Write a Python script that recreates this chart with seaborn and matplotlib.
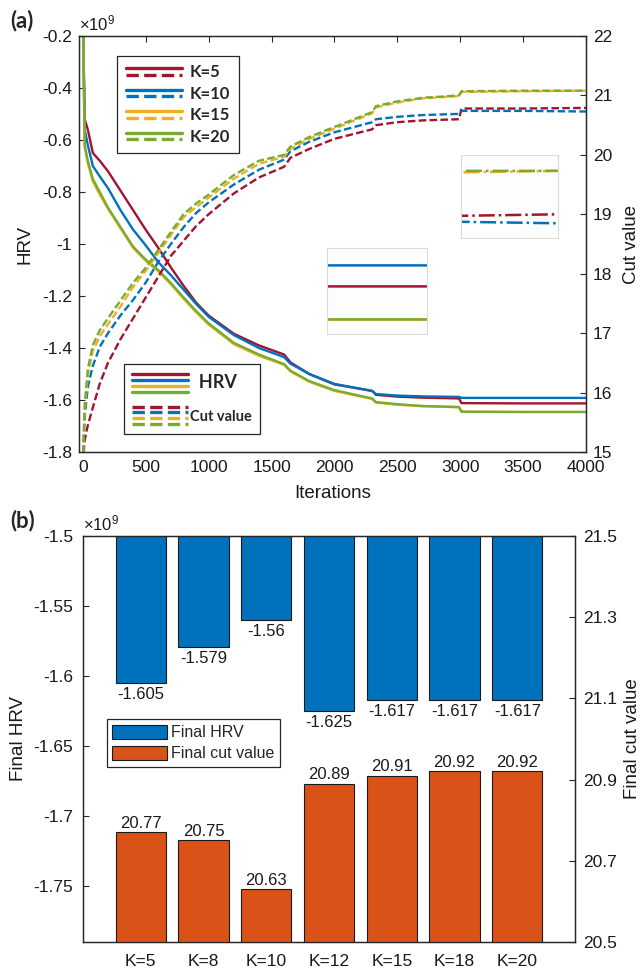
import numpy as np
import pandas as pd
import matplotlib
matplotlib.use('Agg')
import matplotlib.pyplot as plt
import seaborn as sns
from matplotlib.lines import Line2D
from matplotlib.patches import Patch
from matplotlib.legend_handler import HandlerBase

# ---- data ----
iters = [0, 15, 40, 80, 135, 200, 300, 400, 500, 600, 700, 800, 900, 1000, 1200,
         1400, 1600, 1650, 1800, 2000, 2300, 2330, 2500, 2700, 2990, 3010, 3500, 4000]

# HRV (x1e9)
hrv_k5 = [-0.10, -0.52, -0.56, -0.65, -0.68, -0.72, -0.795, -0.87, -0.945, -1.015, -1.09, -1.16,
          -1.225, -1.275, -1.345, -1.39, -1.425, -1.455, -1.50, -1.54, -1.565, -1.58, -1.587, -1.591,
          -1.594, -1.612, -1.613, -1.613]
hrv_k10 = [-0.10, -0.56, -0.62, -0.70, -0.74, -0.785, -0.87, -0.945, -1.005, -1.07, -1.12, -1.175,
           -1.23, -1.28, -1.35, -1.40, -1.435, -1.46, -1.50, -1.538, -1.565, -1.577, -1.583,
           -1.586, -1.588, -1.592, -1.592, -1.592]
hrv_k15 = [-0.10, -0.63, -0.69, -0.76, -0.81, -0.865, -0.94, -1.015, -1.065, -1.105, -1.155, -1.21,
           -1.262, -1.31, -1.385, -1.43, -1.465, -1.49, -1.53, -1.565, -1.596, -1.61, -1.618,
           -1.624, -1.628, -1.645, -1.646, -1.646]
hrv_k20 = [-0.10, -0.62, -0.68, -0.75, -0.80, -0.86, -0.935, -1.01, -1.06, -1.10, -1.15, -1.205,
           -1.257, -1.305, -1.38, -1.425, -1.462, -1.487, -1.527, -1.562, -1.594, -1.608, -1.616,
           -1.623, -1.627, -1.645, -1.646, -1.646]

# cut value
cut_k5 = [14.8, 15.2, 15.45, 15.75, 16.15, 16.5, 16.9, 17.25, 17.6, 17.95, 18.3, 18.55, 18.8, 19.0,
          19.35, 19.62, 19.8, 19.95, 20.1, 20.27, 20.43, 20.5, 20.55, 20.58, 20.6, 20.78, 20.78, 20.79]
cut_k10 = [14.8, 15.6, 16.1, 16.45, 16.77, 17.0, 17.3, 17.56, 17.85, 18.2, 18.5, 18.78, 19.02, 19.2,
           19.5, 19.75, 19.92, 20.06, 20.22, 20.38, 20.55, 20.6, 20.64, 20.67, 20.69, 20.74, 20.74, 20.73]
cut_k15 = [14.8, 15.7, 16.3, 16.7, 16.95, 17.15, 17.45, 17.78, 18.05, 18.35, 18.65, 18.95, 19.12, 19.28,
           19.6, 19.85, 19.97, 20.1, 20.27, 20.44, 20.7, 20.8, 20.88, 20.95, 20.99, 21.06, 21.07, 21.08]
cut_k20 = [14.8, 15.8, 16.4, 16.8, 17.05, 17.25, 17.55, 17.85, 18.1, 18.4, 18.7, 19.0, 19.18, 19.33,
           19.66, 19.9, 20.0, 20.14, 20.3, 20.47, 20.72, 20.82, 20.9, 20.96, 21.0, 21.07, 21.08, 21.08]

k_curves = ['K=5', 'K=10', 'K=15', 'K=20']

# panel (b)
k_labels = ['K=5', 'K=8', 'K=10', 'K=12', 'K=15', 'K=18', 'K=20']
final_hrv = [-1.605, -1.579, -1.56, -1.625, -1.617, -1.617, -1.617]
final_cut = [20.77, 20.75, 20.63, 20.89, 20.91, 20.92, 20.92]

# ---- style ----
sns.set_theme(style='white')
plt.rcParams['font.family'] = ['Liberation Sans', 'DejaVu Sans']
plt.rcParams['axes.unicode_minus'] = False
plt.rcParams['mathtext.fontset'] = 'custom'
plt.rcParams['mathtext.rm'] = 'Liberation Sans'
plt.rcParams['mathtext.it'] = 'Liberation Sans:italic'

palette = {'K=5': '#A2142F', 'K=10': '#0072BD', 'K=15': '#EDB120', 'K=20': '#77AC30'}
AX_COL = '#262626'
TICK_FS = 12.5
LAB_FS = 13.5
DASH = (0, (3.2, 1.4))

hrv_df = pd.DataFrame({'iter': iters * 4,
                       'hrv': hrv_k5 + hrv_k10 + hrv_k15 + hrv_k20,
                       'K': np.repeat(k_curves, len(iters))})
cut_df = pd.DataFrame({'iter': iters * 4,
                       'cut': cut_k5 + cut_k10 + cut_k15 + cut_k20,
                       'K': np.repeat(k_curves, len(iters))})


class StackHandler(HandlerBase):
    """draws the lines of a tuple handle stacked on top of each other"""
    def create_artists(self, legend, orig_handle, xdescent, ydescent, width, height, fontsize, trans):
        n = len(orig_handle)
        arts = []
        for i, h in enumerate(orig_handle):
            y = height * (1 - (i + 0.5) / n) - ydescent
            ln = Line2D([-xdescent, width - xdescent], [y, y], color=h.get_color(),
                        linestyle=h.get_linestyle(), linewidth=h.get_linewidth())
            ln.set_transform(trans)
            arts.append(ln)
        return arts


def style_axes(ax, pad_x=5, pad_y=5):
    for sp in ax.spines.values():
        sp.set_color(AX_COL)
        sp.set_linewidth(0.9)
    ax.tick_params(direction='in', length=4, width=0.8, color=AX_COL,
                   labelsize=TICK_FS, labelcolor='#1a1a1a')
    ax.tick_params(axis='x', pad=pad_x)
    ax.tick_params(axis='y', pad=pad_y)


fig = plt.figure(figsize=(6.42, 9.71), dpi=100)

# ================= panel (a) =================
axa = fig.add_axes([0.1231, 0.5345, 0.7897, 0.4284])
axa2 = axa.twinx()

sns.lineplot(data=hrv_df, x='iter', y='hrv', hue='K', hue_order=k_curves, palette=palette,
             estimator=None, sort=False, linewidth=1.7, legend=False, ax=axa)
sns.lineplot(data=cut_df, x='iter', y='cut', hue='K', hue_order=k_curves, palette=palette,
             estimator=None, sort=False, linewidth=1.7, linestyle=DASH, legend=False, ax=axa2)

axa.set_xlim(-30, 4000)
axa.set_ylim(-1.8, -0.2)
axa.set_yticks(np.arange(-1.8, -0.19, 0.2))
axa.set_yticklabels(['-1.8', '-1.6', '-1.4', '-1.2', '-1', '-0.8', '-0.6', '-0.4', '-0.2'])
axa.set_xticks(np.arange(0, 4001, 500))
axa2.set_ylim(15, 22)
axa2.set_yticks(range(15, 23))
style_axes(axa, pad_x=5.5, pad_y=5)
style_axes(axa2, pad_y=5)
axa.tick_params(axis='x', top=True)

axa.set_xlabel('Iterations', fontsize=LAB_FS, color='#1a1a1a')
axa.xaxis.set_label_coords(0.5, -0.08)
axa.set_ylabel('HRV', fontsize=LAB_FS, color='#1a1a1a')
axa.yaxis.set_label_coords(-0.09, 0.5)
axa2.set_ylabel('Cut value', fontsize=LAB_FS, color='#1a1a1a')
axa2.yaxis.set_label_coords(1.073, 0.5)
axa.text(0.0, 1.006, '×10$^{9}$', transform=axa.transAxes, ha='left', va='bottom',
         fontsize=12, color='#1a1a1a')

# legend: K values (solid + dashed stacked)
k_handles = [(Line2D([], [], color=palette[k], lw=2.4),
              Line2D([], [], color=palette[k], lw=2.4, ls=DASH)) for k in k_curves]
leg1 = axa2.legend(k_handles, k_curves, handler_map={tuple: StackHandler()},
                   loc='upper left', bbox_to_anchor=(0.0755, 0.952), borderaxespad=0,
                   prop={'family': 'Lato', 'weight': 'bold', 'size': 12},
                   handlelength=3.4, handleheight=0.85, labelspacing=0.33, handletextpad=0.45,
                   borderpad=0.5, fancybox=False, framealpha=1, edgecolor=AX_COL)
leg1.get_frame().set_linewidth(0.9)
axa2.add_artist(leg1)

# legend: HRV / Cut value
hrv_h = tuple(Line2D([], [], color=palette[k], lw=2.4) for k in k_curves)
cut_h = tuple(Line2D([], [], color=palette[k], lw=2.4, ls=DASH) for k in k_curves)
leg2 = axa2.legend([hrv_h, cut_h], ['  HRV', 'Cut value'], handler_map={tuple: StackHandler()},
                   loc='upper left', bbox_to_anchor=(0.0893, 0.2115), borderaxespad=0,
                   prop={'family': 'Lato', 'weight': 'bold', 'size': 12},
                   handlelength=3.4, handleheight=1.75, labelspacing=0.55, handletextpad=0.1,
                   borderpad=0.45, fancybox=False, framealpha=1, edgecolor=AX_COL)
leg2.get_frame().set_linewidth(0.9)
leg2.get_texts()[0].set_fontsize(13)
leg2.get_texts()[1].set_fontsize(10.5)

# zoom insets
ins1 = fig.add_axes([0.5098, 0.656, 0.1548, 0.0883])
sns.lineplot(data=hrv_df, x='iter', y='hrv', hue='K', hue_order=k_curves, palette=palette,
             estimator=None, sort=False, linewidth=1.8, legend=False, ax=ins1)
ins1.set_xlim(3500, 4000)
ins1.set_ylim(-1.6606, -1.5749)

ins2 = fig.add_axes([0.7181, 0.7546, 0.1506, 0.0858])
sns.lineplot(data=cut_df, x='iter', y='cut', hue='K', hue_order=k_curves, palette=palette,
             estimator=None, sort=False, linewidth=1.8, linestyle='-.', legend=False, ax=ins2)
ins2.set_xlim(3500, 4000)
ins2.set_ylim(20.63, 21.186)

for ins in (ins1, ins2):
    ins.set_xticks([])
    ins.set_yticks([])
    ins.set_xlabel('')
    ins.set_ylabel('')
    ins.set_facecolor('#fdfdfd')
    for sp in ins.spines.values():
        sp.set_color('#dcdcdc')
        sp.set_linewidth(0.8)

# ================= panel (b) =================
axb = fig.add_axes([0.1293, 0.0299, 0.7664, 0.4181])
axb2 = axb.twinx()

sns.barplot(x=k_labels, y=final_hrv, color='#0072BD', saturation=1, width=0.8,
            edgecolor='#1a1a1a', linewidth=0.8, ax=axb)
sns.barplot(x=k_labels, y=final_cut, color='#D95319', saturation=1, width=0.8,
            edgecolor='#1a1a1a', linewidth=0.8, ax=axb2)

axb.bar_label(axb.containers[0], labels=[f'{v:g}' for v in final_hrv], padding=3,
              fontsize=12, color='#1a1a1a')
axb2.bar_label(axb2.containers[0], labels=[f'{v:g}' for v in final_cut], padding=1,
               fontsize=12, color='#1a1a1a')

axb.set_xlim(-0.92, 6.92)
axb.set_ylim(-1.79, -1.5)
axb.set_yticks([-1.75, -1.7, -1.65, -1.6, -1.55, -1.5])
axb.set_yticklabels(['-1.75', '-1.7', '-1.65', '-1.6', '-1.55', '-1.5'])
axb2.set_ylim(20.5, 21.5)
axb2.set_yticks([20.5, 20.7, 20.9, 21.1, 21.3, 21.5])
axb2.set_yticklabels(['20.5', '20.7', '20.9', '21.1', '21.3', '21.5'])
style_axes(axb, pad_x=9, pad_y=7)
style_axes(axb2, pad_y=5.5)
axb.tick_params(axis='x', top=True)

axb.set_xlabel('')
axb.set_ylabel('Final HRV', fontsize=LAB_FS, color='#1a1a1a')
axb.yaxis.set_label_coords(-0.113, 0.5)
axb2.set_ylabel('Final cut value', fontsize=LAB_FS, color='#1a1a1a')
axb2.yaxis.set_label_coords(1.1, 0.5)
axb.text(0.0, 1.006, '×10$^{9}$', transform=axb.transAxes, ha='left', va='bottom',
         fontsize=12, color='#1a1a1a')

bar_handles = [Patch(facecolor='#0072BD', edgecolor='#1a1a1a', lw=0.8),
               Patch(facecolor='#D95319', edgecolor='#1a1a1a', lw=0.8)]
legb = axb2.legend(bar_handles, ['Final HRV', 'Final cut value'], loc='upper left',
                   bbox_to_anchor=(0.048, 0.5485), borderaxespad=0, fontsize=11.5,
                   handlelength=3.4, handleheight=1.0, labelspacing=0.32, handletextpad=0.3,
                   borderpad=0.35, fancybox=False, framealpha=1, edgecolor=AX_COL)
legb.get_frame().set_linewidth(0.9)

# panel tags
fig.text(22 / 642, 1 - 21 / 971, '(a)', ha='center', va='center', fontsize=16,
         family='Lato', weight='bold')
fig.text(23 / 642, 1 - 521 / 971, '(b)', ha='center', va='center', fontsize=16,
         family='Lato', weight='bold')

fig.savefig('out.png', dpi=100)
